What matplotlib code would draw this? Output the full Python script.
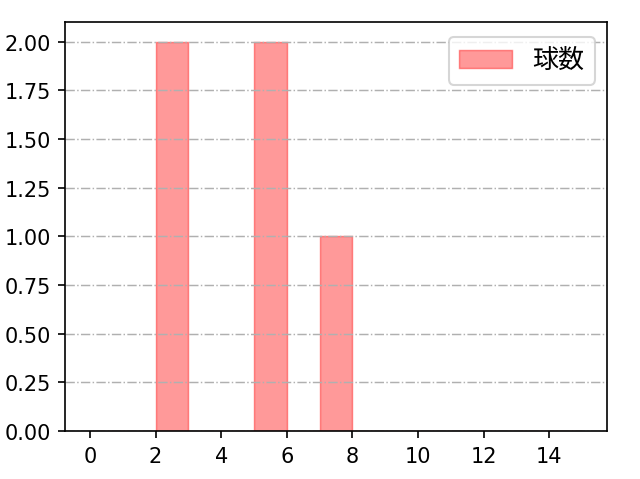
import matplotlib
matplotlib.use("Agg")
import matplotlib.pyplot as plt
import numpy as np

plt.rcParams['font.family'] = ['DejaVu Sans', 'Noto Sans CJK JP']

pitch_values = [2, 2, 5, 5, 7]
bin_edges = list(range(0, 16))
label = "球数"

fig, ax = plt.subplots(figsize=(6.4 / 1.5, 4.8 / 1.5), dpi=150)
ax.hist(pitch_values, bins=bin_edges, color='red', alpha=0.4, edgecolor='red', linewidth=0.7, label=label)
ax.grid(axis='y', linestyle='-.', color='#b0b0b0', linewidth=0.7)
ax.set_xticks(np.arange(0, 15, 2))
ax.yaxis.set_major_formatter(matplotlib.ticker.FormatStrFormatter('%.2f'))
ax.legend(loc='upper right', bbox_to_anchor=(0.978, 0.964), borderaxespad=0,
          prop={'family': ['Noto Sans CJK JP'], 'size': 12.5})
fig.subplots_adjust(left=0.102, right=0.948, top=0.952, bottom=0.1)
fig.savefig('out.png', dpi=150)
